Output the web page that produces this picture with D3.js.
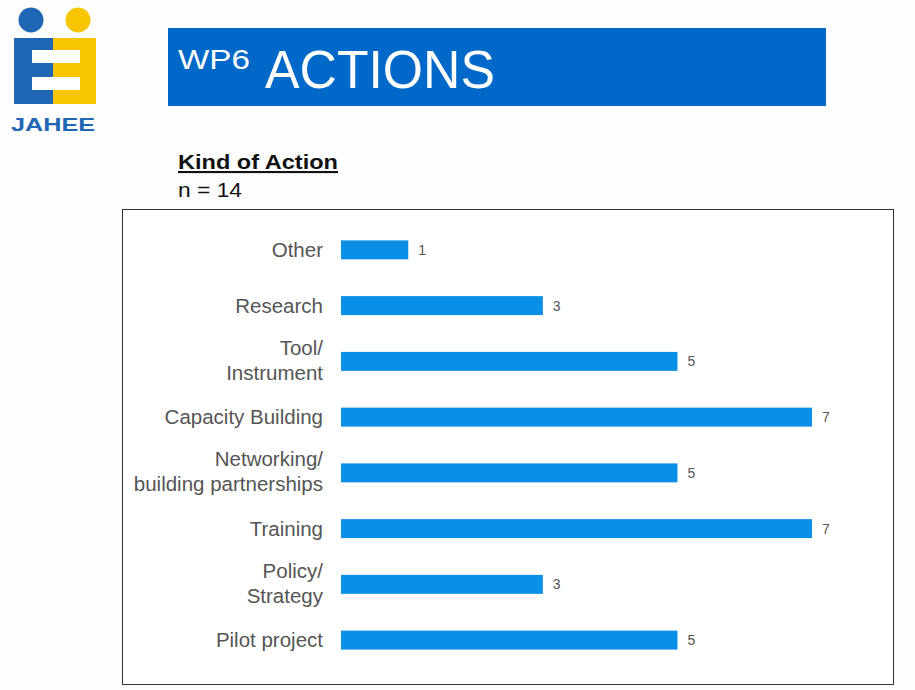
<!DOCTYPE html>
<html><head><meta charset="utf-8">
<script src="https://cdn.jsdelivr.net/npm/d3@7"></script>
<style>body{margin:0;background:#fff;}svg{display:block;font-family:"Liberation Sans",Arial,sans-serif;}</style>
</head><body><svg id="c" width="915" height="690"></svg>
<script>
const categories = [["Other"],["Research"],["Tool/","Instrument"],["Capacity Building"],["Networking/","building partnerships"],["Training"],["Policy/","Strategy"],["Pilot project"]];
const values = [1,3,5,7,5,7,3,5];
const xTicks = [0,1,2,3,4,5,6,7];

const svg = d3.select("#c");
svg.append("rect").attr("width",915).attr("height",690).attr("fill","#fdfdfe");

// Logo
const logo = svg.append("g");
logo.append("circle").attr("cx",31).attr("cy",20).attr("r",12.5).attr("fill","#1f66b5");
logo.append("circle").attr("cx",78).attr("cy",20).attr("r",12.5).attr("fill","#f7c600");
logo.append("rect").attr("x",14).attr("y",38).attr("width",40).attr("height",66).attr("fill","#1f66b5");
logo.append("rect").attr("x",53).attr("y",38).attr("width",43).attr("height",66).attr("fill","#f7c600");
logo.append("rect").attr("x",32).attr("y",50).attr("width",48).attr("height",13).attr("fill","#fff");
logo.append("rect").attr("x",32).attr("y",77).attr("width",48).attr("height",13).attr("fill","#fff");
logo.append("text").attr("x",53).attr("y",131).attr("text-anchor","middle").attr("font-weight","bold")
  .attr("font-size",19).attr("fill","#1f66b5").attr("textLength",84).attr("lengthAdjust","spacingAndGlyphs").text("JAHEE");

// Title banner
svg.append("rect").attr("x",168).attr("y",28).attr("width",658).attr("height",78).attr("fill","#0068c9");
svg.append("text").attr("x",178).attr("y",69).attr("font-size",27).attr("fill","#fff")
  .attr("textLength",72).attr("lengthAdjust","spacingAndGlyphs").text("WP6");
svg.append("text").attr("x",265).attr("y",88).attr("font-size",54).attr("fill","#fff")
  .attr("textLength",230).attr("lengthAdjust","spacingAndGlyphs").text("ACTIONS");

// Subtitle
svg.append("text").attr("x",178).attr("y",169).attr("font-size",21).attr("font-weight","bold").attr("fill","#111")
  .attr("text-decoration","underline").attr("textLength",160).attr("lengthAdjust","spacingAndGlyphs").text("Kind of Action");
svg.append("text").attr("x",178).attr("y",197).attr("font-size",21).attr("fill","#111")
  .attr("textLength",64).attr("lengthAdjust","spacingAndGlyphs").text("n = 14");

// Frame
svg.append("rect").attr("x",122.5).attr("y",209.5).attr("width",771).attr("height",475)
  .attr("fill","#fff").attr("stroke","#333").attr("stroke-width",1);

const x = d3.scaleLinear().domain([0,7]).range([341,812]);
const y = d3.scaleBand().domain(d3.range(categories.length)).range([222,668]).paddingInner(0.66).paddingOuter(0.33);

const g = svg.append("g");
g.selectAll("rect.bar").data(values).join("rect").attr("class","bar")
  .attr("x",x(0)).attr("y",(d,i)=>y(i)).attr("width",d=>x(d)-x(0)).attr("height",y.bandwidth())
  .attr("fill","#0a8fe6");
g.selectAll("text.val").data(values).join("text").attr("class","val")
  .attr("x",d=>x(d)+10).attr("y",(d,i)=>y(i)+y.bandwidth()/2+5)
  .attr("font-size",14).attr("fill","#555").text(d=>d);

const lab = g.selectAll("text.cat").data(categories).join("text").attr("class","cat")
  .attr("text-anchor","end").attr("font-size",20.5).attr("fill","#555");
lab.each(function(d,i){
  const t = d3.select(this);
  const cy = y(i)+y.bandwidth()/2;
  const n = d.length;
  d.forEach((s,k)=>{
    t.append("tspan").attr("x",323).attr("y",cy+7+(k-(n-1)/2)*25 - (n>1?1:0)).text(s);
  });
});
</script></body></html>
